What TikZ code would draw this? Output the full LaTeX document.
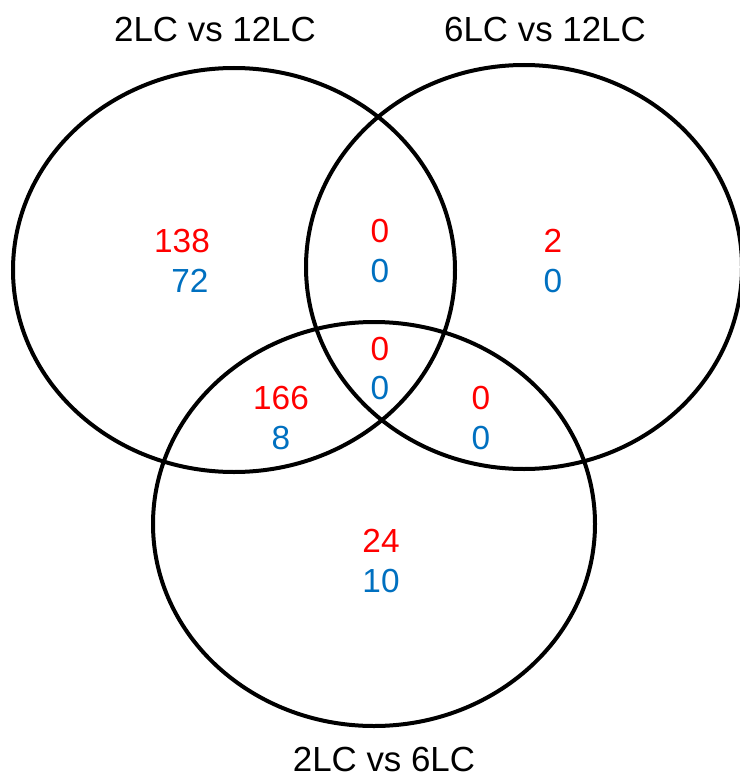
\documentclass[tikz,border=0pt]{standalone}
\usepackage{fontspec}
\setmainfont{Liberation Sans}
\definecolor{vred}{HTML}{FF0000}
\definecolor{vblue}{HTML}{0070C0}
\tikzset{
  vset/.style={line width=4bp, draw=black},
  lbl/.style={font=\fontsize{35}{40}\selectfont, anchor=base, inner sep=0pt},
  rnum/.style={font=\fontsize{33.5}{38}\selectfont, text=vred, anchor=base, inner sep=0pt},
  bnum/.style={font=\fontsize{33.5}{38}\selectfont, text=vblue, anchor=base, inner sep=0pt}
}
\begin{document}
\begin{tikzpicture}[x=1bp,y=-1bp]
\useasboundingbox (0,0) rectangle (740,778);
\draw[vset] (234,270) ellipse [x radius=221, y radius=202];
\draw[vset] (524,267) ellipse [x radius=218, y radius=202];
\draw[vset] (374,524) ellipse [x radius=221, y radius=202];
\node[lbl] (la) at (215,42) {2LC vs 12LC};
\node[lbl] (lb) at (545,42) {6LC vs 12LC};
\node[lbl] (lc) at (384,771) {2LC vs 6LC};
\node[rnum] (a1) at (182,252) {138};
\node[bnum] (a2) at (190,292) {72};
\node[rnum] (b1) at (380,242) {0};
\node[bnum] (b2) at (380,282) {0};
\node[rnum] (c1) at (553,252) {2};
\node[bnum] (c2) at (553,292) {0};
\node[rnum] (d1) at (380,360) {0};
\node[bnum] (d2) at (380,399) {0};
\node[rnum] (e1) at (281,409) {166};
\node[bnum] (e2) at (281,449) {8};
\node[rnum] (f1) at (481,409) {0};
\node[bnum] (f2) at (481,449) {0};
\node[rnum] (g1) at (381,552) {24};
\node[bnum] (g2) at (381,592) {10};
\end{tikzpicture}
\end{document}
